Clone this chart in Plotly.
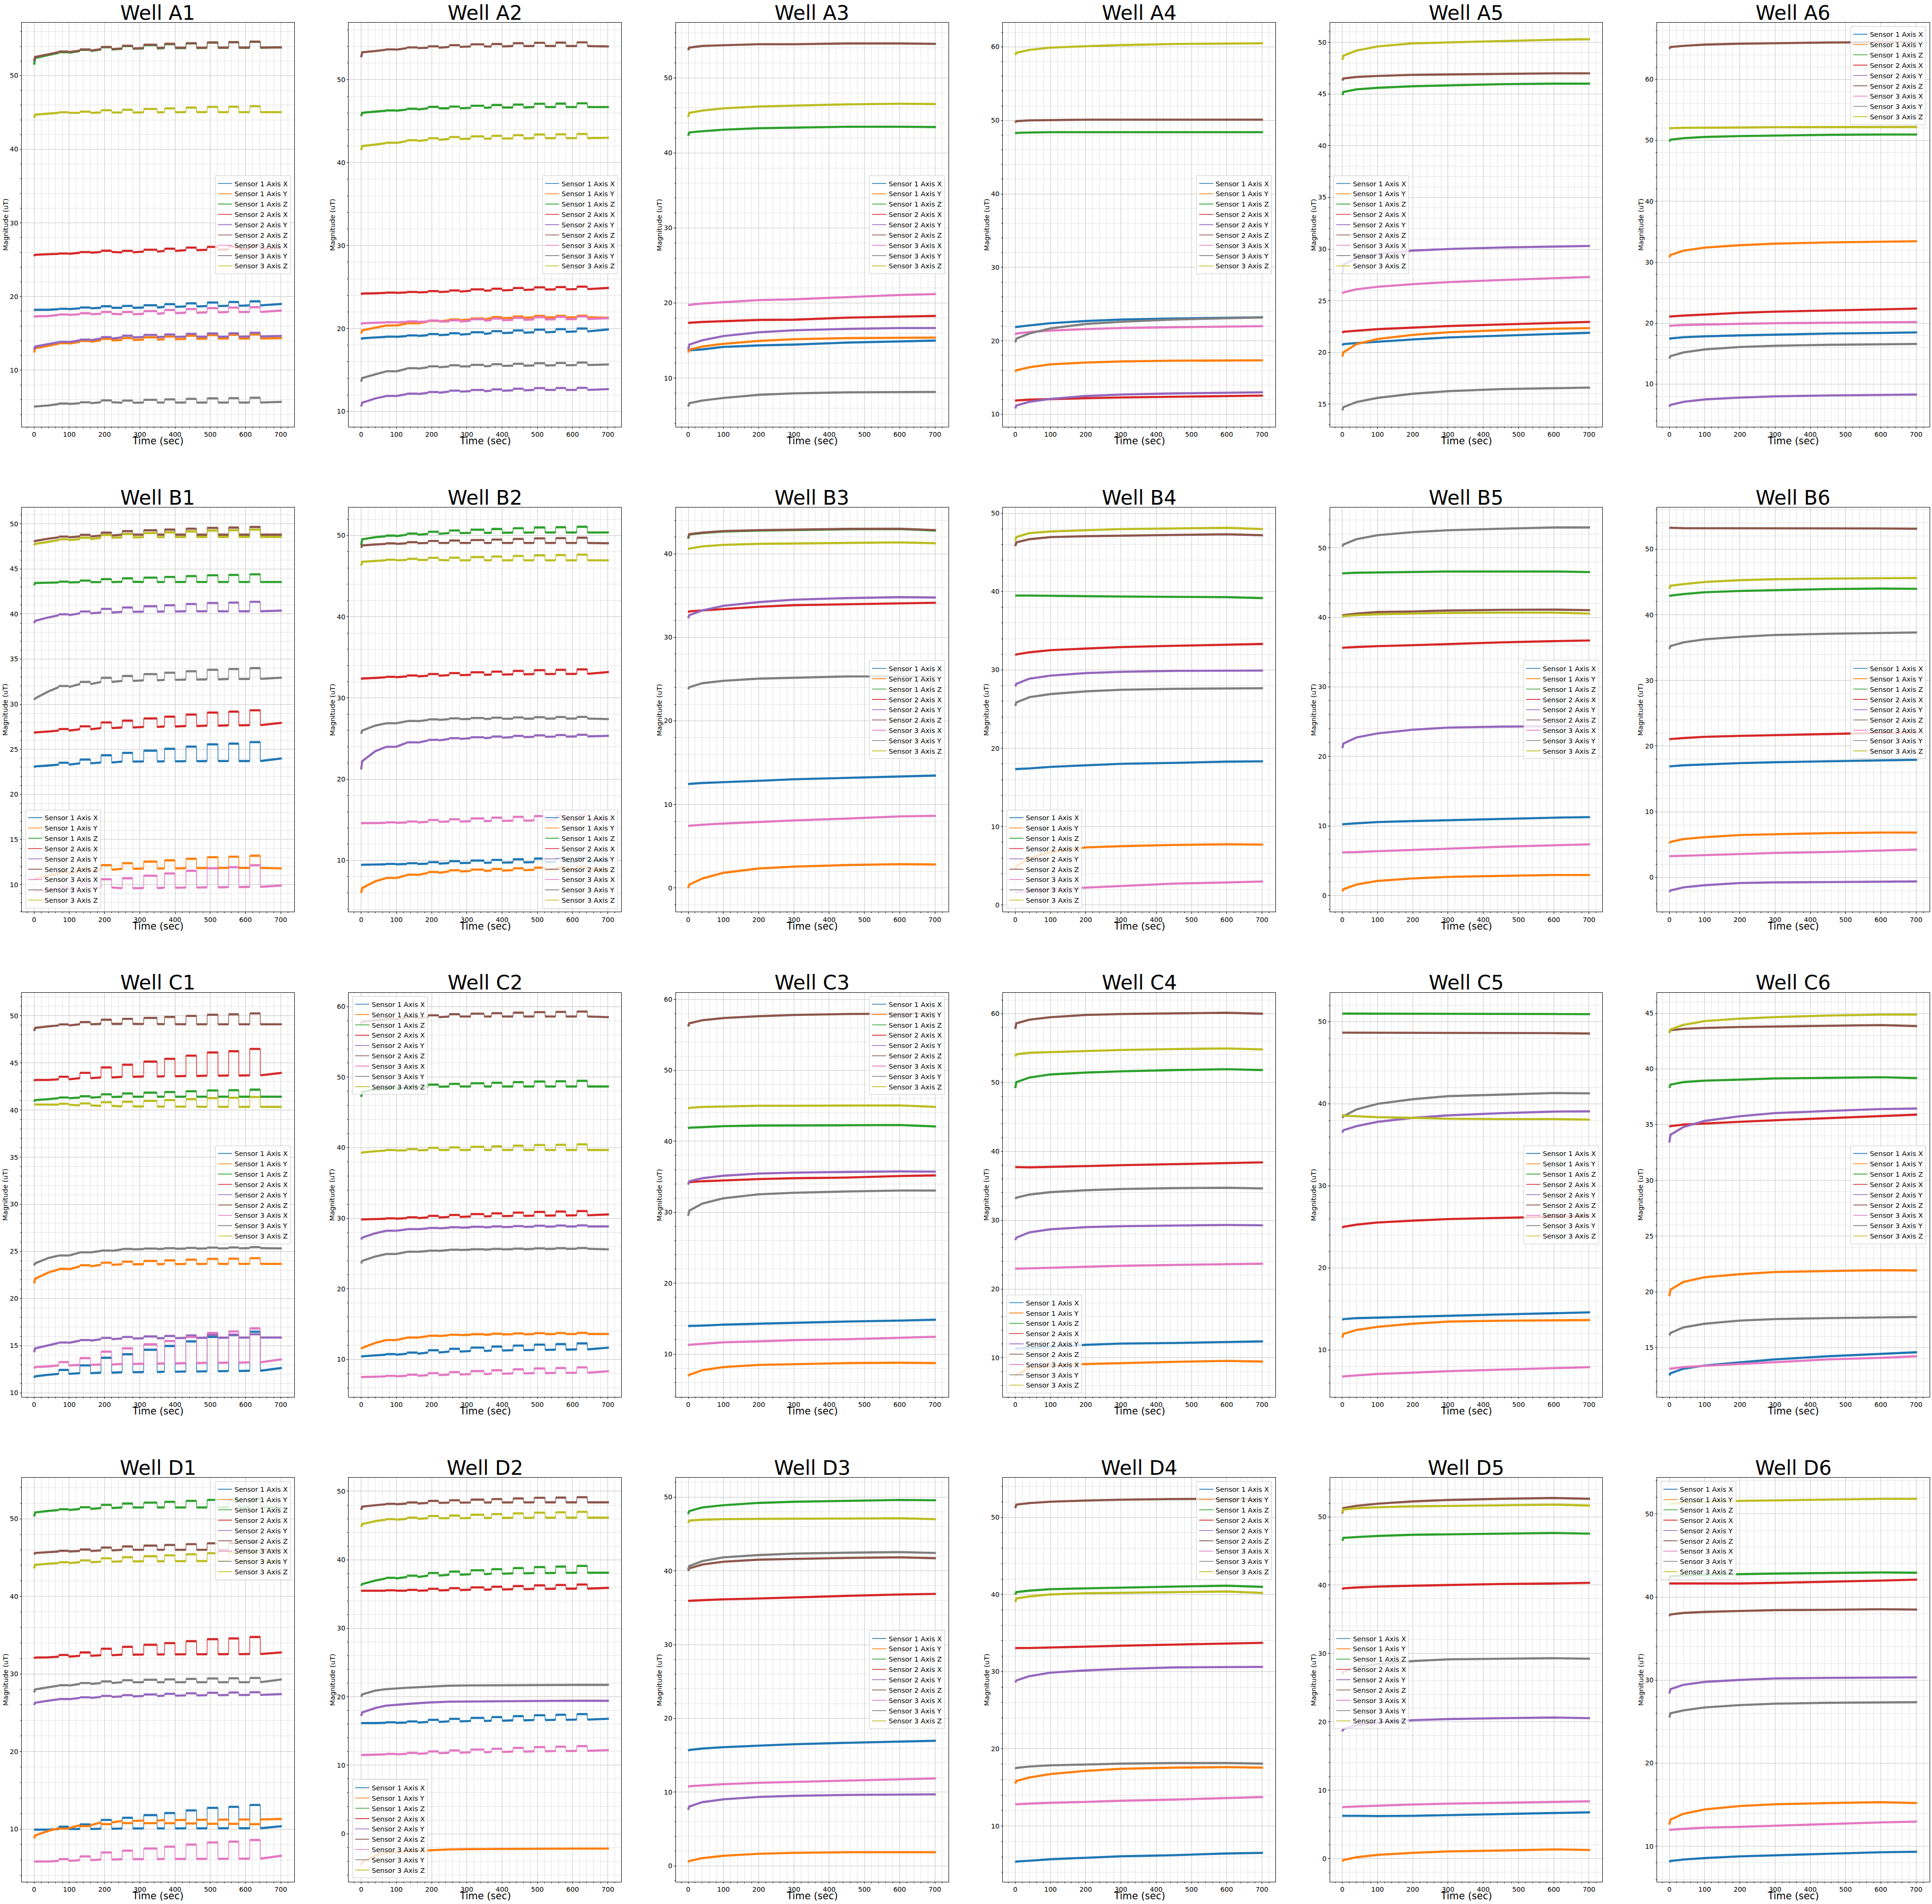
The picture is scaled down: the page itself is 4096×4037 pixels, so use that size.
import plotly.graph_objects as go

# ---------------- data ----------------
SERIES = ["Sensor 1 Axis X", "Sensor 1 Axis Y", "Sensor 1 Axis Z",
          "Sensor 2 Axis X", "Sensor 2 Axis Y", "Sensor 2 Axis Z",
          "Sensor 3 Axis X", "Sensor 3 Axis Y", "Sensor 3 Axis Z"]
COLORS = ["#1f77b4", "#ff7f0e", "#2ca02c", "#d62728", "#9467bd",
          "#8c564b", "#e377c2", "#7f7f7f", "#bcbd22"]
WELLS = ["A1", "A2", "A3", "A4", "A5", "A6",
         "B1", "B2", "B3", "B4", "B5", "B6",
         "C1", "C2", "C3", "C4", "C5", "C6",
         "D1", "D2", "D3", "D4", "D5", "D6"]

# time grids (s)
T_SMOOTH = [0, 3, 40, 100, 200, 300, 450, 600, 703]
T_STEP = [0, 3, 40, 70, 130, 190, 250, 311, 370, 431, 491, 552, 612, 703]
# stimulation ON windows (start / end, s) and relative step size per window
STIM_ON = [70, 130, 190, 250, 311, 370, 431, 491, 552, 612]
STIM_OFF = [98, 160, 220, 280, 349, 400, 461, 522, 581, 642]
STEP_GAIN = [0.1, 0.2, 0.38, 0.46, 0.57, 0.66, 0.77, 0.88, 0.92, 1.0]

# series order: S1X, S1Y, S1Z, S2X, S2Y, S2Z, S3X, S3Y, S3Z
A1 = [[18.1, 18.2, 18.2, 18.28, 18.4, 18.47, 18.47, 18.5, 18.6, 18.65, 18.7, 18.75, 18.8, 19.0],
      [12.4, 12.97, 13.3, 13.6, 13.85, 14.05, 14.1, 14.15, 14.2, 14.25, 14.28, 14.3, 14.3, 14.35],
      [51.5, 52.4, 52.8, 53.1, 53.35, 53.55, 53.65, 53.7, 53.75, 53.75, 53.8, 53.8, 53.8, 53.85],
      [25.5, 25.67, 25.75, 25.8, 25.95, 26.05, 26.0, 26.1, 26.2, 26.3, 26.35, 26.4, 26.45, 26.6],
      [12.8, 13.2, 13.55, 13.8, 14.05, 14.3, 14.45, 14.5, 14.52, 14.55, 14.55, 14.55, 14.58, 14.65],
      [52.0, 52.54, 52.9, 53.2, 53.4, 53.6, 53.7, 53.75, 53.8, 53.8, 53.8, 53.82, 53.82, 53.85],
      [17.2, 17.3, 17.35, 17.5, 17.6, 17.65, 17.6, 17.65, 17.75, 17.8, 17.85, 17.9, 17.9, 18.1],
      [5.0, 5.07, 5.2, 5.4, 5.5, 5.65, 5.57, 5.6, 5.6, 5.6, 5.6, 5.6, 5.6, 5.7],
      [44.3, 44.7, 44.85, 44.95, 44.95, 45.0, 45.0, 45.02, 45.03, 45.05, 45.05, 45.05, 45.05, 45.05]]
A1_STEP = [0.55, 0.55, 0.8, 0.45, 0.5, 0.8, 0.65, 0.65, 0.8]

A2 = [[18.7, 18.82, 18.92, 18.99, 19.1, 19.2, 19.27, 19.35, 19.45, 19.5, 19.55, 19.6, 19.65, 19.9],
      [19.4, 19.78, 20.1, 20.35, 20.6, 20.85, 21.0, 21.1, 21.25, 21.3, 21.35, 21.35, 21.35, 21.3],
      [45.6, 46.0, 46.15, 46.25, 46.4, 46.55, 46.55, 46.6, 46.65, 46.65, 46.7, 46.7, 46.7, 46.7],
      [24.1, 24.22, 24.25, 24.3, 24.35, 24.4, 24.45, 24.55, 24.6, 24.65, 24.7, 24.72, 24.75, 24.9],
      [10.6, 11.06, 11.57, 11.85, 12.1, 12.25, 12.4, 12.45, 12.5, 12.55, 12.6, 12.6, 12.6, 12.7],
      [52.7, 53.3, 53.45, 53.6, 53.8, 53.85, 53.95, 54.0, 54.0, 54.05, 54.05, 54.05, 54.05, 54.0],
      [20.5, 20.63, 20.7, 20.73, 20.8, 20.85, 20.85, 20.95, 21.0, 21.05, 21.1, 21.12, 21.15, 21.25],
      [13.6, 14.03, 14.48, 14.82, 15.16, 15.33, 15.43, 15.45, 15.5, 15.52, 15.55, 15.57, 15.6, 15.67],
      [41.5, 42.0, 42.17, 42.35, 42.6, 42.75, 42.85, 42.88, 42.9, 42.92, 42.95, 42.95, 42.95, 43.0]]
A2_STEP = [0.35, 0.2, 0.45, 0.3, 0.25, 0.45, 0.3, 0.3, 0.5]

A3 = [[13.6, 13.7, 13.82, 14.16, 14.35, 14.46, 14.73, 14.9, 15.0],
      [13.4, 13.78, 14.2, 14.57, 14.95, 15.18, 15.33, 15.4, 15.4],
      [42.3, 42.74, 42.9, 43.1, 43.3, 43.38, 43.5, 43.5, 43.46],
      [17.3, 17.37, 17.48, 17.6, 17.75, 17.78, 18.05, 18.2, 18.28],
      [13.8, 14.46, 15.03, 15.6, 16.1, 16.37, 16.55, 16.67, 16.67],
      [53.7, 54.05, 54.27, 54.35, 54.5, 54.5, 54.6, 54.6, 54.55],
      [19.7, 19.75, 19.94, 20.13, 20.4, 20.5, 20.8, 21.07, 21.2],
      [6.2, 6.64, 7.0, 7.35, 7.77, 7.96, 8.1, 8.15, 8.15],
      [44.8, 45.35, 45.65, 45.95, 46.2, 46.33, 46.48, 46.56, 46.52]]

A4 = [[21.8, 21.9, 22.1, 22.4, 22.7, 22.9, 23.05, 23.15, 23.2],
      [15.8, 16.0, 16.4, 16.8, 17.05, 17.2, 17.3, 17.35, 17.35],
      [48.2, 48.3, 48.35, 48.4, 48.4, 48.4, 48.4, 48.4, 48.4],
      [11.8, 11.9, 12.0, 12.1, 12.2, 12.3, 12.4, 12.5, 12.55],
      [10.8, 11.2, 11.7, 12.1, 12.5, 12.7, 12.85, 12.95, 13.0],
      [49.7, 49.9, 50.0, 50.05, 50.1, 50.1, 50.1, 50.1, 50.1],
      [20.8, 21.0, 21.2, 21.4, 21.6, 21.75, 21.85, 21.95, 22.0],
      [19.8, 20.3, 21.0, 21.7, 22.3, 22.6, 22.9, 23.1, 23.2],
      [58.9, 59.2, 59.6, 59.9, 60.1, 60.25, 60.4, 60.5, 60.5]]

A5 = [[20.7, 20.8, 20.9, 21.05, 21.25, 21.45, 21.6, 21.8, 21.9],
      [19.6, 20.0, 20.8, 21.3, 21.7, 21.95, 22.15, 22.3, 22.35],
      [44.9, 45.2, 45.45, 45.6, 45.75, 45.85, 45.95, 46.0, 46.0],
      [21.9, 22.0, 22.1, 22.25, 22.4, 22.55, 22.7, 22.85, 22.95],
      [27.6, 28.5, 29.1, 29.5, 29.85, 30.0, 30.15, 30.25, 30.3],
      [46.3, 46.5, 46.65, 46.75, 46.85, 46.9, 46.95, 47.0, 47.0],
      [25.7, 25.8, 26.1, 26.35, 26.6, 26.8, 27.0, 27.2, 27.3],
      [14.4, 14.7, 15.2, 15.6, 16.0, 16.25, 16.45, 16.55, 16.6],
      [48.3, 48.7, 49.2, 49.6, 49.9, 50.0, 50.1, 50.25, 50.3]]

A6 = [[17.4, 17.5, 17.7, 17.85, 18.0, 18.15, 18.3, 18.4, 18.5],
      [30.8, 31.2, 31.9, 32.4, 32.8, 33.05, 33.25, 33.4, 33.45],
      [49.8, 50.1, 50.35, 50.55, 50.7, 50.8, 50.9, 50.95, 50.95],
      [21.0, 21.1, 21.25, 21.45, 21.7, 21.9, 22.1, 22.3, 22.4],
      [6.3, 6.6, 7.1, 7.5, 7.8, 8.0, 8.15, 8.25, 8.3],
      [65.0, 65.3, 65.5, 65.7, 65.85, 65.95, 66.05, 66.1, 66.1],
      [19.5, 19.6, 19.7, 19.8, 19.9, 20.0, 20.05, 20.1, 20.2],
      [14.2, 14.6, 15.2, 15.7, 16.1, 16.3, 16.45, 16.55, 16.6],
      [51.9, 52.0, 52.05, 52.1, 52.1, 52.15, 52.15, 52.2, 52.2]]

B1 = [[23.0, 23.1, 23.2, 23.3, 23.44, 23.54, 23.64, 23.65, 23.67, 23.68, 23.7, 23.7, 23.7, 23.99],
      [10.5, 10.65, 11.0, 11.25, 11.5, 11.65, 11.75, 11.78, 11.8, 11.82, 11.85, 11.85, 11.85, 11.8],
      [43.2, 43.44, 43.47, 43.5, 43.54, 43.54, 43.57, 43.55, 43.55, 43.55, 43.55, 43.55, 43.55, 43.55],
      [26.8, 26.87, 26.97, 27.08, 27.22, 27.35, 27.42, 27.48, 27.53, 27.58, 27.62, 27.66, 27.68, 27.94],
      [39.0, 39.24, 39.62, 39.86, 40.07, 40.17, 40.24, 40.26, 40.28, 40.3, 40.3, 40.3, 40.3, 40.38],
      [48.0, 48.1, 48.35, 48.5, 48.6, 48.7, 48.8, 48.8, 48.8, 48.8, 48.8, 48.8, 48.8, 48.8],
      [9.2, 9.28, 9.4, 9.5, 9.6, 9.68, 9.6, 9.62, 9.65, 9.68, 9.7, 9.72, 9.75, 9.9],
      [30.5, 30.65, 31.4, 31.9, 32.23, 32.47, 32.58, 32.65, 32.7, 32.73, 32.76, 32.8, 32.8, 32.95],
      [47.6, 47.77, 48.0, 48.2, 48.3, 48.45, 48.5, 48.52, 48.53, 48.55, 48.55, 48.55, 48.55, 48.55]]
B1_STEP = [2.1, 1.35, 0.85, 1.65, 1.05, 0.85, 2.4, 1.2, 0.8]

B2 = [[9.4, 9.47, 9.5, 9.52, 9.56, 9.6, 9.68, 9.7, 9.73, 9.76, 9.79, 9.81, 9.83, 10.06],
      [6.0, 6.6, 7.43, 7.81, 8.19, 8.46, 8.65, 8.7, 8.75, 8.8, 8.84, 8.86, 8.88, 8.88],
      [48.8, 49.54, 49.8, 49.92, 50.1, 50.2, 50.3, 50.32, 50.34, 50.36, 50.38, 50.38, 50.38, 50.38],
      [32.3, 32.4, 32.47, 32.55, 32.66, 32.74, 32.81, 32.85, 32.88, 32.91, 32.94, 32.96, 32.97, 33.2],
      [21.2, 22.22, 23.44, 23.97, 24.5, 24.77, 24.96, 25.05, 25.12, 25.18, 25.22, 25.25, 25.27, 25.34],
      [48.5, 48.78, 48.9, 48.97, 49.05, 49.08, 49.08, 49.08, 49.08, 49.08, 49.08, 49.08, 49.08, 49.05],
      [14.5, 14.6, 14.6, 14.63, 14.67, 14.75, 14.79, 14.83, 14.87, 14.9, 14.93, 14.96, 14.98, 15.05],
      [25.6, 25.99, 26.6, 26.87, 27.13, 27.29, 27.4, 27.42, 27.44, 27.45, 27.46, 27.47, 27.47, 27.4],
      [46.3, 46.76, 46.87, 46.95, 46.99, 46.99, 46.95, 46.95, 46.95, 46.95, 46.95, 46.95, 46.95, 46.95]]
B2_STEP = [0.5, 0.3, 0.7, 0.55, 0.2, 0.65, 0.6, 0.2, 0.7]

B3 = [[12.4, 12.46, 12.57, 12.65, 12.83, 13.02, 13.2, 13.39, 13.46],
      [0.0, 0.4, 1.14, 1.82, 2.34, 2.56, 2.75, 2.86, 2.82],
      [41.8, 42.3, 42.48, 42.67, 42.78, 42.85, 42.93, 42.96, 42.78],
      [33.0, 33.11, 33.22, 33.4, 33.66, 33.85, 33.96, 34.07, 34.14],
      [32.3, 32.66, 33.22, 33.77, 34.22, 34.51, 34.7, 34.81, 34.77],
      [41.9, 42.35, 42.53, 42.72, 42.83, 42.9, 42.98, 43.0, 42.83],
      [7.4, 7.46, 7.57, 7.72, 7.9, 8.09, 8.31, 8.57, 8.64],
      [23.8, 24.03, 24.51, 24.8, 25.06, 25.17, 25.32, 25.32, 25.32],
      [40.5, 40.63, 40.89, 41.07, 41.19, 41.26, 41.3, 41.37, 41.26]]

B4 = [[17.3, 17.35, 17.43, 17.63, 17.83, 18.02, 18.14, 18.3, 18.34],
      [4.5, 4.98, 5.97, 6.76, 7.35, 7.51, 7.67, 7.75, 7.71],
      [39.5, 39.49, 39.49, 39.45, 39.41, 39.37, 39.33, 39.29, 39.17],
      [31.9, 31.98, 32.25, 32.53, 32.73, 32.92, 33.08, 33.24, 33.32],
      [27.9, 28.22, 28.89, 29.28, 29.6, 29.76, 29.88, 29.92, 29.92],
      [45.8, 46.28, 46.68, 46.96, 47.07, 47.15, 47.23, 47.31, 47.19],
      [1.6, 1.62, 1.82, 2.02, 2.21, 2.41, 2.73, 2.88, 3.0],
      [25.4, 25.85, 26.52, 26.92, 27.27, 27.47, 27.59, 27.67, 27.67],
      [46.5, 46.96, 47.47, 47.67, 47.83, 47.98, 48.06, 48.14, 47.98]]

B5 = [[10.2, 10.25, 10.38, 10.56, 10.7, 10.83, 11.01, 11.19, 11.27],
      [0.6, 0.89, 1.56, 2.09, 2.45, 2.67, 2.81, 2.94, 2.94],
      [46.3, 46.35, 46.43, 46.48, 46.57, 46.61, 46.61, 46.61, 46.52],
      [35.6, 35.65, 35.74, 35.87, 36.0, 36.18, 36.41, 36.59, 36.68],
      [21.2, 21.84, 22.73, 23.31, 23.84, 24.15, 24.29, 24.38, 24.38],
      [40.2, 40.33, 40.55, 40.78, 40.86, 41.0, 41.09, 41.13, 41.04],
      [6.2, 6.2, 6.24, 6.37, 6.55, 6.77, 7.0, 7.22, 7.35],
      [50.2, 50.49, 51.25, 51.83, 52.27, 52.54, 52.76, 52.94, 52.94],
      [40.1, 40.2, 40.33, 40.46, 40.55, 40.64, 40.69, 40.69, 40.55]]

B6 = [[16.9, 16.93, 17.08, 17.22, 17.41, 17.55, 17.69, 17.83, 17.92],
      [5.2, 5.42, 5.85, 6.13, 6.46, 6.6, 6.75, 6.84, 6.84],
      [42.8, 42.92, 43.16, 43.44, 43.63, 43.77, 43.92, 44.0, 43.96],
      [21.0, 21.08, 21.23, 21.42, 21.56, 21.7, 21.84, 22.03, 22.05],
      [-2.2, -1.98, -1.51, -1.18, -0.85, -0.75, -0.71, -0.61, -0.61],
      [53.3, 53.25, 53.2, 53.2, 53.2, 53.2, 53.18, 53.15, 53.11],
      [3.2, 3.25, 3.3, 3.4, 3.54, 3.73, 3.87, 4.1, 4.25],
      [34.8, 35.24, 35.8, 36.27, 36.65, 36.93, 37.12, 37.26, 37.31],
      [44.0, 44.43, 44.67, 45.0, 45.28, 45.42, 45.52, 45.61, 45.61]]

C1 = [[11.6, 11.75, 11.91, 12.01, 12.08, 12.14, 12.18, 12.2, 12.23, 12.26, 12.28, 12.31, 12.34, 12.64],
      [21.6, 22.1, 22.76, 23.09, 23.42, 23.58, 23.64, 23.65, 23.66, 23.67, 23.68, 23.68, 23.68, 23.68],
      [40.9, 41.06, 41.16, 41.26, 41.32, 41.39, 41.42, 41.42, 41.42, 41.42, 41.42, 41.42, 41.42, 41.42],
      [43.1, 43.2, 43.2, 43.26, 43.39, 43.46, 43.53, 43.56, 43.59, 43.62, 43.65, 43.67, 43.69, 43.95],
      [14.3, 14.71, 15.03, 15.3, 15.53, 15.69, 15.76, 15.78, 15.8, 15.82, 15.84, 15.85, 15.86, 15.86],
      [48.4, 48.72, 48.88, 48.98, 49.11, 49.15, 49.15, 49.13, 49.12, 49.11, 49.11, 49.11, 49.11, 49.11],
      [12.6, 12.73, 12.8, 12.9, 12.96, 13.0, 13.06, 13.09, 13.12, 13.15, 13.18, 13.2, 13.23, 13.56],
      [23.5, 23.74, 24.3, 24.56, 24.89, 25.06, 25.22, 25.25, 25.28, 25.3, 25.32, 25.33, 25.35, 25.32],
      [40.6, 40.6, 40.6, 40.57, 40.5, 40.44, 40.4, 40.38, 40.37, 40.36, 40.35, 40.34, 40.34, 40.34]]
C1_STEP = [4.15, 0.6, 0.75, 2.8, 0.35, 1.15, 3.6, 0.1, 1.05]

C2 = [[10.4, 10.46, 10.59, 10.68, 10.81, 10.99, 11.12, 11.2, 11.27, 11.32, 11.36, 11.4, 11.43, 11.69],
      [11.5, 11.65, 12.35, 12.74, 13.09, 13.31, 13.44, 13.5, 13.55, 13.58, 13.6, 13.61, 13.62, 13.62],
      [47.2, 47.89, 48.28, 48.42, 48.55, 48.64, 48.68, 48.68, 48.68, 48.68, 48.68, 48.68, 48.68, 48.68],
      [29.8, 29.85, 29.9, 29.94, 30.03, 30.12, 30.2, 30.26, 30.31, 30.35, 30.38, 30.41, 30.43, 30.56],
      [27.0, 27.27, 27.88, 28.23, 28.45, 28.58, 28.67, 28.72, 28.76, 28.79, 28.82, 28.84, 28.85, 28.85],
      [57.5, 57.85, 58.07, 58.2, 58.38, 58.5, 58.6, 58.6, 58.6, 58.6, 58.6, 58.6, 58.6, 58.5],
      [7.5, 7.52, 7.56, 7.61, 7.7, 7.78, 7.87, 7.93, 7.98, 8.03, 8.07, 8.1, 8.13, 8.35],
      [23.6, 23.98, 24.59, 24.94, 25.25, 25.38, 25.51, 25.56, 25.6, 25.63, 25.66, 25.68, 25.69, 25.6],
      [39.2, 39.33, 39.5, 39.6, 39.64, 39.68, 39.68, 39.68, 39.68, 39.68, 39.68, 39.68, 39.68, 39.68]]
C2_STEP = [0.85, 0.15, 0.8, 0.6, 0.15, 0.7, 0.75, 0.1, 0.8]

C3 = [[13.9, 13.97, 14.02, 14.15, 14.28, 14.41, 14.59, 14.72, 14.85],
      [6.9, 7.07, 7.73, 8.17, 8.47, 8.6, 8.73, 8.78, 8.73],
      [41.8, 41.92, 42.0, 42.14, 42.23, 42.23, 42.27, 42.31, 42.1],
      [34.2, 34.24, 34.37, 34.5, 34.67, 34.8, 34.89, 35.11, 35.2],
      [33.9, 34.37, 34.8, 35.15, 35.46, 35.59, 35.68, 35.76, 35.72],
      [56.2, 56.64, 57.07, 57.38, 57.64, 57.82, 57.95, 58.03, 58.03],
      [11.2, 11.31, 11.44, 11.66, 11.79, 11.97, 12.1, 12.31, 12.45],
      [29.5, 30.22, 31.22, 31.97, 32.53, 32.75, 32.93, 33.06, 33.06],
      [44.6, 44.72, 44.85, 44.93, 45.02, 45.02, 45.07, 45.07, 44.85]]

C4 = [[11.3, 11.35, 11.44, 11.57, 11.89, 12.07, 12.16, 12.34, 12.39],
      [7.2, 7.52, 8.52, 8.87, 9.1, 9.24, 9.42, 9.55, 9.46],
      [49.2, 50.05, 50.73, 51.18, 51.45, 51.63, 51.81, 51.94, 51.81],
      [37.7, 37.72, 37.68, 37.77, 37.86, 37.99, 38.13, 38.31, 38.4],
      [27.1, 27.46, 28.23, 28.68, 28.99, 29.13, 29.22, 29.31, 29.26],
      [57.8, 58.6, 59.14, 59.5, 59.82, 59.96, 60.05, 60.14, 60.0],
      [22.9, 22.96, 23.0, 23.1, 23.23, 23.37, 23.5, 23.64, 23.68],
      [33.1, 33.27, 33.72, 34.08, 34.35, 34.53, 34.66, 34.71, 34.62],
      [53.8, 54.1, 54.33, 54.42, 54.6, 54.73, 54.87, 54.96, 54.82]]

C5 = [[13.7, 13.77, 13.89, 13.96, 14.08, 14.23, 14.34, 14.49, 14.6],
      [11.5, 11.96, 12.45, 12.83, 13.21, 13.47, 13.58, 13.66, 13.66],
      [51.0, 51.0, 51.0, 51.0, 51.0, 51.0, 51.0, 51.0, 50.94],
      [24.9, 25.02, 25.28, 25.55, 25.77, 25.96, 26.11, 26.26, 26.34],
      [36.5, 36.79, 37.28, 37.81, 38.3, 38.6, 38.87, 39.06, 39.09],
      [48.68, 48.68, 48.68, 48.68, 48.68, 48.66, 48.64, 48.62, 48.57],
      [6.7, 6.79, 6.91, 7.09, 7.25, 7.43, 7.62, 7.81, 7.92],
      [38.3, 38.49, 39.32, 40.0, 40.57, 40.94, 41.13, 41.32, 41.28],
      [38.7, 38.57, 38.49, 38.38, 38.3, 38.19, 38.15, 38.15, 38.08]]

C6 = [[12.5, 12.69, 13.11, 13.39, 13.67, 13.94, 14.22, 14.42, 14.58],
      [19.6, 20.19, 20.89, 21.31, 21.58, 21.78, 21.86, 21.94, 21.92],
      [38.3, 38.58, 38.81, 38.94, 39.03, 39.14, 39.19, 39.25, 39.17],
      [34.8, 34.86, 35.0, 35.11, 35.25, 35.39, 35.56, 35.75, 35.89],
      [33.4, 34.08, 34.78, 35.33, 35.75, 36.03, 36.22, 36.39, 36.44],
      [43.3, 43.47, 43.58, 43.67, 43.75, 43.81, 43.86, 43.92, 43.83],
      [13.1, 13.11, 13.25, 13.36, 13.53, 13.72, 13.94, 14.08, 14.22],
      [16.1, 16.31, 16.81, 17.14, 17.42, 17.56, 17.64, 17.69, 17.75],
      [43.2, 43.53, 43.94, 44.28, 44.5, 44.64, 44.78, 44.86, 44.86]]

D1 = [[9.9, 9.92, 9.92, 10.0, 10.0, 10.03, 10.07, 10.08, 10.08, 10.09, 10.09, 10.1, 10.1, 10.37],
      [8.8, 9.18, 9.74, 10.11, 10.49, 10.86, 11.04, 11.1, 11.15, 11.18, 11.2, 11.22, 11.23, 11.3],
      [50.3, 50.82, 51.01, 51.12, 51.27, 51.38, 51.46, 51.46, 51.46, 51.46, 51.46, 51.46, 51.46, 51.46],
      [32.0, 32.11, 32.14, 32.22, 32.33, 32.41, 32.48, 32.5, 32.52, 32.53, 32.54, 32.55, 32.56, 32.78],
      [26.0, 26.28, 26.54, 26.73, 26.91, 27.03, 27.1, 27.15, 27.2, 27.23, 27.26, 27.28, 27.29, 27.4],
      [45.4, 45.59, 45.7, 45.78, 45.85, 45.93, 46.0, 46.0, 46.0, 46.0, 46.0, 46.0, 46.0, 46.0],
      [5.8, 5.81, 5.81, 5.88, 5.99, 6.07, 6.11, 6.12, 6.14, 6.15, 6.16, 6.17, 6.18, 6.56],
      [27.6, 28.0, 28.27, 28.49, 28.71, 28.82, 28.93, 28.93, 28.93, 28.93, 28.93, 28.93, 28.93, 29.3],
      [43.6, 44.06, 44.21, 44.28, 44.4, 44.47, 44.51, 44.52, 44.53, 44.54, 44.55, 44.55, 44.55, 44.55]]
D1_STEP = [3.0, -0.6, 1.1, 2.2, 0.35, 0.95, 2.4, 0.55, 1.15]

D2 = [[16.1, 16.16, 16.16, 16.2, 16.24, 16.33, 16.41, 16.46, 16.51, 16.56, 16.6, 16.64, 16.67, 16.79],
      [-4.6, -4.1, -3.2, -2.79, -2.58, -2.45, -2.28, -2.24, -2.21, -2.19, -2.18, -2.17, -2.16, -2.16],
      [36.2, 36.46, 36.97, 37.27, 37.48, 37.69, 37.82, 37.9, 37.97, 38.02, 38.06, 38.09, 38.11, 38.11],
      [35.4, 35.49, 35.49, 35.49, 35.49, 35.53, 35.58, 35.63, 35.67, 35.71, 35.74, 35.77, 35.79, 35.91],
      [17.2, 17.72, 18.36, 18.7, 18.95, 19.16, 19.29, 19.33, 19.36, 19.38, 19.4, 19.41, 19.42, 19.42],
      [47.3, 47.76, 47.97, 48.1, 48.22, 48.31, 48.35, 48.36, 48.37, 48.38, 48.39, 48.39, 48.39, 48.39],
      [11.5, 11.51, 11.55, 11.59, 11.67, 11.76, 11.84, 11.9, 11.95, 12.0, 12.04, 12.07, 12.1, 12.22],
      [20.0, 20.35, 20.9, 21.11, 21.32, 21.49, 21.62, 21.66, 21.69, 21.71, 21.73, 21.74, 21.74, 21.74],
      [44.8, 45.22, 45.64, 45.85, 45.98, 46.07, 46.07, 46.1, 46.12, 46.13, 46.14, 46.15, 46.15, 46.15]]
D2_STEP = [0.8, 0.0, 1.0, 0.6, 0.0, 0.75, 0.7, 0.0, 0.85]

D3 = [[15.6, 15.71, 15.91, 16.1, 16.3, 16.5, 16.69, 16.89, 16.97],
      [0.5, 0.67, 1.06, 1.37, 1.65, 1.77, 1.85, 1.89, 1.85],
      [47.7, 48.11, 48.59, 48.9, 49.21, 49.37, 49.49, 49.61, 49.57],
      [35.9, 35.94, 36.02, 36.14, 36.25, 36.41, 36.61, 36.8, 36.88],
      [7.6, 8.05, 8.64, 9.03, 9.35, 9.5, 9.62, 9.7, 9.7],
      [40.0, 40.34, 40.85, 41.24, 41.52, 41.63, 41.75, 41.83, 41.71],
      [10.7, 10.8, 10.92, 11.08, 11.27, 11.39, 11.59, 11.78, 11.86],
      [40.2, 40.65, 41.32, 41.83, 42.14, 42.34, 42.46, 42.54, 42.42],
      [46.5, 46.82, 46.94, 47.01, 47.05, 47.05, 47.09, 47.13, 47.01]]

D4 = [[5.3, 5.39, 5.5, 5.69, 5.88, 6.07, 6.22, 6.44, 6.52],
      [15.5, 15.83, 16.28, 16.73, 17.14, 17.41, 17.56, 17.63, 17.56],
      [40.0, 40.31, 40.5, 40.69, 40.8, 40.91, 41.03, 41.14, 40.99],
      [33.0, 33.06, 33.06, 33.14, 33.21, 33.36, 33.51, 33.67, 33.74],
      [28.6, 28.86, 29.42, 29.87, 30.17, 30.36, 30.55, 30.62, 30.62],
      [51.2, 51.65, 51.84, 52.03, 52.18, 52.29, 52.37, 52.4, 52.33],
      [12.8, 12.82, 12.9, 13.01, 13.12, 13.27, 13.42, 13.65, 13.76],
      [17.4, 17.52, 17.71, 17.86, 17.97, 18.08, 18.16, 18.16, 18.08],
      [39.0, 39.49, 39.75, 40.01, 40.16, 40.24, 40.31, 40.39, 40.2]]

D5 = [[6.3, 6.27, 6.27, 6.23, 6.27, 6.36, 6.48, 6.65, 6.78],
      [-0.4, -0.21, 0.21, 0.55, 0.85, 1.06, 1.19, 1.36, 1.27],
      [46.5, 46.91, 47.03, 47.2, 47.37, 47.46, 47.54, 47.63, 47.54],
      [39.4, 39.53, 39.66, 39.79, 39.92, 40.04, 40.17, 40.25, 40.34],
      [18.6, 18.98, 19.49, 19.92, 20.25, 20.42, 20.55, 20.64, 20.55],
      [50.5, 51.27, 51.61, 51.91, 52.25, 52.46, 52.63, 52.75, 52.63],
      [7.5, 7.54, 7.63, 7.75, 7.92, 8.05, 8.18, 8.35, 8.39],
      [27.0, 27.33, 27.97, 28.47, 28.9, 29.15, 29.24, 29.32, 29.24],
      [50.6, 51.06, 51.27, 51.4, 51.53, 51.61, 51.69, 51.78, 51.65]]

D6 = [[8.1, 8.23, 8.4, 8.58, 8.79, 8.93, 9.1, 9.28, 9.34],
      [12.6, 13.21, 13.91, 14.44, 14.85, 15.06, 15.2, 15.31, 15.2],
      [42.2, 42.5, 42.61, 42.68, 42.75, 42.82, 42.89, 42.96, 42.92],
      [41.6, 41.63, 41.63, 41.63, 41.63, 41.7, 41.81, 41.98, 42.09],
      [28.4, 28.91, 29.43, 29.78, 30.02, 30.2, 30.27, 30.33, 30.33],
      [37.7, 37.9, 38.08, 38.21, 38.32, 38.42, 38.46, 38.53, 38.49],
      [11.9, 12.0, 12.1, 12.24, 12.34, 12.48, 12.69, 12.87, 12.97],
      [25.5, 26.01, 26.36, 26.71, 26.99, 27.16, 27.27, 27.34, 27.34],
      [51.2, 51.22, 51.32, 51.46, 51.57, 51.64, 51.71, 51.81, 51.81]]

# y-axis limits and major tick step
YLIM = {"A1": [2.3, 57.2], "A2": [8.15, 56.87], "A3": [3.5, 57.37], "A4": [8.3, 63.3],
        "A5": [12.8, 51.9], "A6": [3.0, 69.3],
        "B1": [6.98, 51.79], "B2": [3.67, 53.43], "B3": [-2.85, 45.52], "B4": [-0.87, 50.71],
        "B5": [-2.36, 55.79], "B6": [-5.24, 56.32],
        "C1": [9.57, 52.46], "C2": [4.71, 61.97], "C3": [3.97, 60.96], "C4": [4.33, 63.06],
        "C5": [4.3, 53.55], "C6": [10.58, 46.83],
        "D1": [3.19, 55.3], "D2": [-7.02, 51.99], "D3": [-2.16, 52.63], "D4": [2.76, 55.14],
        "D5": [-3.39, 55.72], "D6": [5.72, 54.36]}
YSTEP = {"A5": 5, "B1": 5, "C1": 5, "C6": 5}
LEGEND_LOC = {"A1": "cr", "A2": "cr", "A3": "cr", "A4": "cr", "A5": "cl", "A6": "ur",
              "B1": "ll", "B2": "lr", "B3": "cr", "B4": "ll", "B5": "cr", "B6": "cr",
              "C1": "cr", "C2": "ul", "C3": "ur", "C4": "ll", "C5": "cr", "C6": "cr",
              "D1": "ur", "D2": "ll", "D3": "cr", "D4": "ur", "D5": "cl", "D6": "ul"}

DATA = {"A1": A1, "A2": A2, "A3": A3, "A4": A4, "A5": A5, "A6": A6,
        "B1": B1, "B2": B2, "B3": B3, "B4": B4, "B5": B5, "B6": B6,
        "C1": C1, "C2": C2, "C3": C3, "C4": C4, "C5": C5, "C6": C6,
        "D1": D1, "D2": D2, "D3": D3, "D4": D4, "D5": D5, "D6": D6}
STEPS = {"A1": A1_STEP, "A2": A2_STEP, "B1": B1_STEP, "B2": B2_STEP,
         "C1": C1_STEP, "C2": C2_STEP, "D1": D1_STEP, "D2": D2_STEP}
X_RANGE = [-35.15, 738.15]

# ---------------- layout geometry (reference pixels, scaled by 0.725) ----------------
W, H = 4096, 4037
S = 0.725
FW, FH = W / S, H / S
AX_L0, AX_T0, AX_W, AX_H = 63.4, 66.3, 797.0, 1182.0
PX, PY = 956.4, 1418.4
FONT = "DejaVu Sans"


def build(tgrid, vals, h):
    """Thick path for the signal levels, thin path for the step edges."""
    xs, ys, vx, vy = [], [], [], []
    for t, v in zip(tgrid, vals):
        xs.append(t)
        ys.append(v)
        if h and t in STIM_ON:
            k = STIM_ON.index(t)
            up = v + h * STEP_GAIN[k]
            e = STIM_OFF[k]
            xs += [None, t, e, None, e]
            ys += [None, up, up, None, v]
            vx += [t, t, None, e, e, None]
            vy += [v, up, None, up, v, None]
    return xs, ys, vx, vy


fig = go.Figure()
layout = dict(width=W, height=H, margin=dict(l=0, r=0, t=0, b=0), autosize=False,
              paper_bgcolor="white", plot_bgcolor="white", showlegend=True)
annotations = []

for k, well in enumerate(WELLS):
    r, c = divmod(k, 6)
    L = AX_L0 + c * PX
    T = AX_T0 + r * PY
    x0, x1 = L / FW, (L + AX_W) / FW
    y1, y0 = 1 - T / FH, 1 - (T + AX_H) / FH
    xa = "x" if k == 0 else f"x{k + 1}"
    ya = "y" if k == 0 else f"y{k + 1}"
    lg = "legend" if k == 0 else f"legend{k + 1}"
    vals = DATA[well]
    tgrid = T_STEP if len(vals[0]) == len(T_STEP) else T_SMOOTH
    steps = STEPS.get(well, [0] * 9)
    for i in range(9):
        xs, ys, vx, vy = build(tgrid, vals[i], steps[i])
        if vx:
            fig.add_trace(go.Scatter(x=vx, y=vy, mode="lines", xaxis=xa, yaxis=ya,
                                     line=dict(color=COLORS[i], width=1.4),
                                     showlegend=False, hoverinfo="skip"))
        fig.add_trace(go.Scatter(x=xs, y=ys, mode="lines", xaxis=xa, yaxis=ya,
                                 line=dict(color=COLORS[i], width=4.6),
                                 showlegend=False, hoverinfo="skip"))
    for i in range(9):
        fig.add_trace(go.Scatter(x=[None], y=[None], mode="lines", xaxis=xa, yaxis=ya,
                                 line=dict(color=COLORS[i], width=1.6), name=SERIES[i],
                                 legend=lg, showlegend=True))
    dt = YSTEP.get(well, 10)
    common = dict(showline=True, linecolor="black", linewidth=0.8, mirror=True,
                  ticks="outside", ticklen=3.5, tickwidth=0.8, tickcolor="black",
                  showgrid=True, gridcolor="#c4c4c4", gridwidth=1.3, zeroline=False,
                  tickfont=dict(family=FONT, size=14.1, color="black"), tick0=0)
    layout["xaxis" if k == 0 else f"xaxis{k + 1}"] = dict(
        domain=[x0, x1], anchor=ya, range=X_RANGE, dtick=100,
        minor=dict(dtick=20, ticks="outside", ticklen=2, tickwidth=0.6, tickcolor="black",
                   showgrid=True, gridcolor="#e3e3e3", gridwidth=0.7), **common)
    layout["yaxis" if k == 0 else f"yaxis{k + 1}"] = dict(
        domain=[y0, y1], anchor=xa, range=YLIM[well], dtick=dt,
        minor=dict(dtick=dt / 5, ticks="outside", ticklen=2, tickwidth=0.6, tickcolor="black",
                   showgrid=True, gridcolor="#e3e3e3", gridwidth=0.7), **common)
    # legend placement
    loc = LEGEND_LOC[well]
    padx, pady = 10.5 / FW, 10.5 / FH
    if loc[0] == "c":
        ly, lya = (y0 + y1) / 2, "middle"
    elif loc[0] == "u":
        ly, lya = y1 - pady, "top"
    else:
        ly, lya = y0 + pady, "bottom"
    if loc[1] == "r":
        lx, lxa = x1 - padx, "right"
    else:
        lx, lxa = x0 + padx, "left"
    layout[lg] = dict(x=lx, y=ly, xanchor=lxa, yanchor=lya, xref="paper", yref="paper",
                      bgcolor="rgba(255,255,255,0.8)", bordercolor="#cccccc", borderwidth=1,
                      font=dict(family=FONT, size=14.5, color="black"), itemwidth=30,
                      tracegroupgap=0)
    # title / axis labels
    annotations.append(dict(text=f"Well {well}", x=(x0 + x1) / 2, y=1 - (T - 65.6) / FH,
                            xref="paper", yref="paper", xanchor="center", yanchor="top",
                            showarrow=False, font=dict(family=FONT, size=42.4, color="black")))
    annotations.append(dict(text="Time (sec)", x=(x0 + x1) / 2, y=1 - (T + AX_H + 42) / FH,
                            xref="paper", yref="paper", xanchor="center", yanchor="middle",
                            showarrow=False, font=dict(family=FONT, size=20.7, color="black")))
    annotations.append(dict(text="Magnitude (uT)", x=(L - 48) / FW, y=(y0 + y1) / 2,
                            xref="paper", yref="paper", xanchor="center", yanchor="middle",
                            textangle=-90, showarrow=False,
                            font=dict(family=FONT, size=14.5, color="black")))

layout["annotations"] = annotations
fig.update_layout(**layout)
fig.write_html("out.html")
